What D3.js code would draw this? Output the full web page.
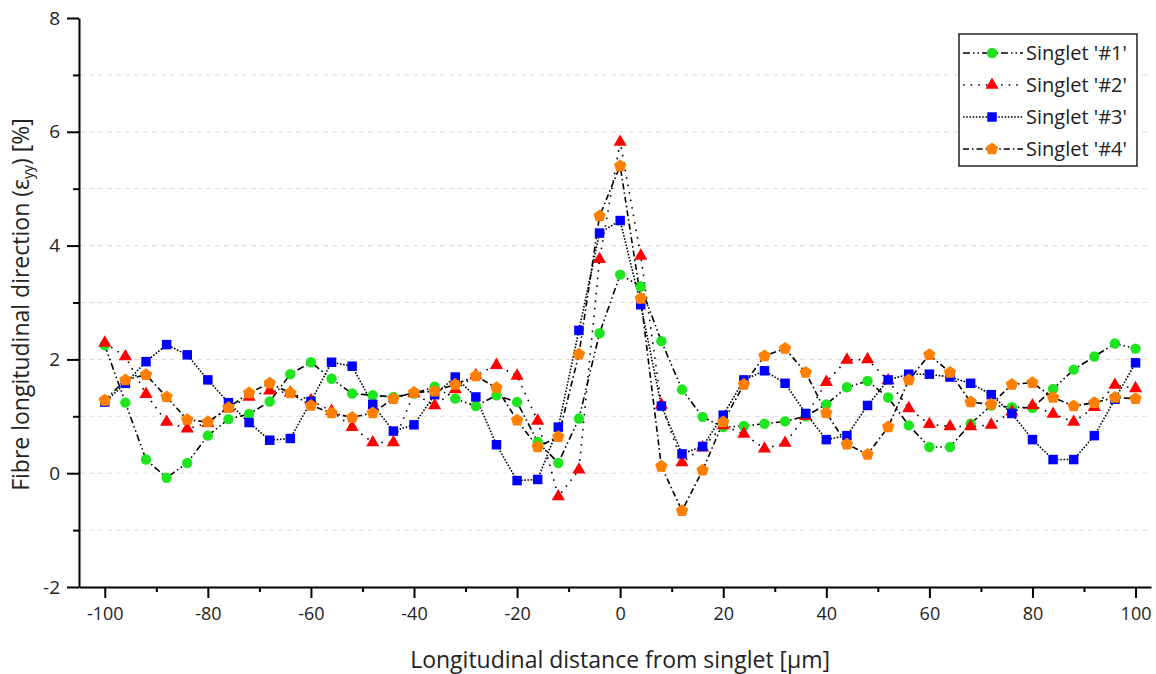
<!DOCTYPE html>
<html>
<head>
<meta charset="utf-8">
<script src="https://cdn.jsdelivr.net/npm/d3@7"></script>
<style>
  body { margin: 0; background: #fff; }
  text { font-family: "Open Sans", "Liberation Sans", sans-serif; }
</style>
</head>
<body>
<div id="chart"></div>
<script>
// distance along the fibre [um], -100 .. 100 step 4
const distance = [-100,-96,-92,-88,-84,-80,-76,-72,-68,-64,-60,-56,-52,-48,-44,-40,-36,-32,-28,-24,-20,-16,-12,-8,-4,
  0,4,8,12,16,20,24,28,32,36,40,44,48,52,56,60,64,68,72,76,80,84,88,92,96,100]

const singlet1 = [2.25,1.24,0.24,-0.08,0.18,0.66,0.95,1.04,1.26,1.74,1.95,1.66,1.40,1.37,1.34,1.40,1.52,1.31,1.18,1.37,1.25,0.55,0.18,0.96,2.46,
  3.49,3.28,2.32,1.47,0.99,0.81,0.83,0.87,0.91,1.00,1.21,1.51,1.62,1.33,0.84,0.46,0.46,0.87,1.19,1.16,1.15,1.48,1.82,2.05,2.28,2.19]
const singlet2 = [2.29,2.05,1.39,0.90,0.78,0.88,1.15,1.34,1.45,1.41,1.28,1.09,0.81,0.54,0.54,1.40,1.19,1.47,1.72,1.90,1.71,0.92,-0.41,0.06,3.76,
  5.82,3.82,1.20,0.19,0.45,0.84,0.69,0.43,0.53,1.00,1.60,1.99,2.00,1.63,1.14,0.86,0.82,0.82,0.85,1.08,1.19,1.04,0.90,1.16,1.55,1.49]
const singlet3 = [1.25,1.58,1.96,2.26,2.08,1.64,1.24,0.89,0.58,0.61,1.26,1.95,1.88,1.21,0.74,0.85,1.38,1.69,1.34,0.50,-0.13,-0.11,0.81,2.51,4.22,
  4.44,2.96,1.18,0.34,0.47,1.02,1.64,1.80,1.58,1.05,0.59,0.66,1.19,1.64,1.74,1.74,1.69,1.58,1.38,1.05,0.59,0.24,0.24,0.66,1.30,1.94]
const singlet4 = [1.28,1.64,1.73,1.34,0.94,0.90,1.15,1.41,1.58,1.41,1.19,1.06,0.98,1.06,1.31,1.42,1.44,1.56,1.71,1.50,0.93,0.46,0.64,2.09,4.52,
  5.40,3.07,0.12,-0.66,0.05,0.90,1.56,2.06,2.19,1.77,1.06,0.51,0.33,0.81,1.64,2.08,1.77,1.25,1.21,1.56,1.59,1.33,1.18,1.24,1.33,1.31]

const seriesNames = ["Singlet '#1'", "Singlet '#2'", "Singlet '#3'", "Singlet '#4'"]
const xTicks = [-100,-80,-60,-40,-20,0,20,40,60,80,100]
const yTicks = [-2,0,2,4,6,8]

const allSeries = [singlet1, singlet2, singlet3, singlet4]
const colors = ["#1ee61e", "#ff0000", "#0000ff", "#ff8000"]
const dashes = ["7,3,1.5,3,1.5,3", "1.6,6", "1.6,1.6", "6,3,1.6,3"]
const shapes = [d3.symbolCircle, d3.symbolTriangle, d3.symbolSquare, "pentagon"]

const W = 1156, H = 674

var svg = d3.select("#chart").append("svg")
  .attr("width", W).attr("height", H)

var x = d3.scaleLinear().domain([-105, 103]).range([79, 1151])
var y = d3.scaleLinear().domain([-2, 8]).range([587, 18])

// dashed horizontal grid
svg.append("g").selectAll("line")
  .data(d3.range(-1, 8))
  .enter().append("line")
  .attr("x1", 80).attr("x2", 1151)
  .attr("y1", d => y(d)).attr("y2", d => y(d))
  .attr("stroke", "#dcdcdc").attr("stroke-width", 1)
  .attr("stroke-dasharray", "5,4")

// x axis
var gx = svg.append("g").attr("transform", "translate(0," + y(-2) + ")")
gx.call(d3.axisBottom(x).tickValues(xTicks).tickFormat(d => String(d))
  .tickSize(11).tickSizeOuter(0).tickPadding(9))
svg.append("g").attr("transform", "translate(0," + y(-2) + ")")
  .call(d3.axisBottom(x).tickValues(d3.range(-90, 100, 20)).tickSize(5).tickFormat("").tickSizeOuter(0))
  .select(".domain").remove()

// y axis
var gy = svg.append("g").attr("transform", "translate(" + x(-105) + ",0)")
gy.call(d3.axisLeft(y).tickValues(yTicks).tickFormat(d => String(d))
  .tickSize(12).tickSizeOuter(0).tickPadding(7))
svg.append("g").attr("transform", "translate(" + x(-105) + ",0)")
  .call(d3.axisLeft(y).tickValues(d3.range(-1, 8, 2)).tickSize(6).tickFormat("").tickSizeOuter(0))
  .select(".domain").remove()

svg.selectAll(".domain").attr("stroke", "#000").attr("stroke-width", 2)
svg.selectAll(".tick line").attr("stroke", "#000").attr("stroke-width", 2)
gx.selectAll(".tick text").attr("font-size", 18).attr("fill", "#222")
  .attr("font-family", "'Open Sans', sans-serif")
gy.selectAll(".tick text").attr("font-size", 19).attr("fill", "#222")
  .attr("font-family", "'Open Sans', sans-serif")

// axis titles
svg.append("text")
  .attr("x", x(0)).attr("y", 668)
  .attr("text-anchor", "middle").attr("font-size", 23).attr("fill", "#222")
  .text("Longitudinal distance from singlet [µm]")

var yt = svg.append("text")
  .attr("transform", "translate(29," + (y(3) + 2) + ") rotate(-90)")
  .attr("text-anchor", "middle").attr("font-size", 23).attr("fill", "#222")
yt.append("tspan").text("Fibre longitudinal direction (ε")
yt.append("tspan").attr("font-size", 14).attr("dy", 4).text("yy")
yt.append("tspan").attr("dy", -4).text(") [%]")

function pentagon(size) {
  var r = size
  var pts = d3.range(5).map(i => {
    var a = -Math.PI / 2 + i * 2 * Math.PI / 5
    return [r * Math.cos(a), r * Math.sin(a)]
  })
  return "M" + pts.join("L") + "Z"
}
function markerPath(i) {
  if (shapes[i] === "pentagon") return pentagon(6.5)
  var sizes = [85, 75, 90]
  return d3.symbol().type(shapes[i]).size(sizes[i])()
}

var line = d3.line()
  .x((d, i) => x(distance[i]))
  .y(d => y(d))

allSeries.forEach(function(data, s) {
  svg.append("path")
    .datum(data)
    .attr("d", line)
    .attr("fill", "none")
    .attr("stroke", "#000")
    .attr("stroke-width", 1.6)
    .attr("stroke-dasharray", dashes[s])
})

allSeries.forEach(function(data, s) {
  svg.append("g").selectAll("path")
    .data(data)
    .enter().append("path")
    .attr("d", markerPath(s))
    .attr("transform", (d, i) => "translate(" + x(distance[i]) + "," + y(d) + ")")
    .attr("fill", colors[s])
})

// legend
var lg = svg.append("g").attr("transform", "translate(959,34)")
lg.append("rect").attr("width", 178).attr("height", 132)
  .attr("fill", "#fff").attr("stroke", "#000").attr("stroke-width", 1.3)
seriesNames.forEach(function(name, s) {
  var ry = 19 + s * 32
  lg.append("line").attr("x1", 4).attr("x2", 64).attr("y1", ry).attr("y2", ry)
    .attr("stroke", "#000").attr("stroke-width", 1.6).attr("stroke-dasharray", dashes[s])
  lg.append("path").attr("d", markerPath(s))
    .attr("transform", "translate(33," + ry + ")").attr("fill", colors[s])
  lg.append("text").attr("x", 67).attr("y", ry + 7)
    .attr("font-size", 20).attr("fill", "#222").text(name)
})
</script>
</body>
</html>
